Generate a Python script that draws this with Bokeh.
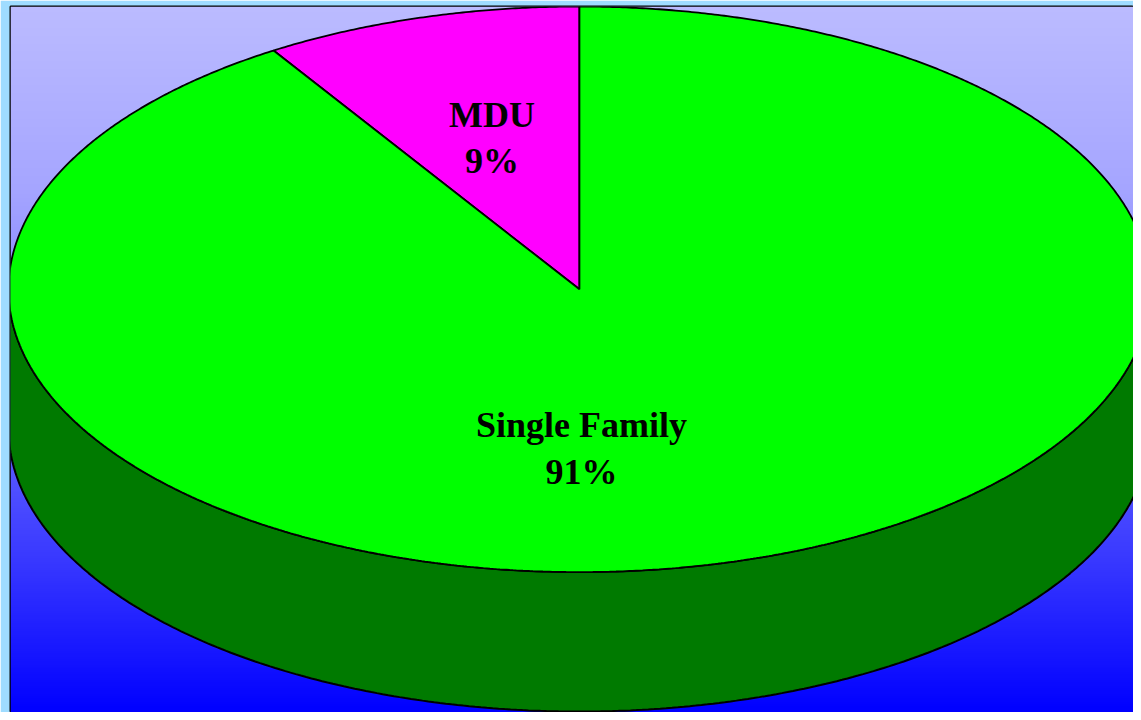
import numpy as np
from bokeh.plotting import figure
from bokeh.models import Range1d
from bokeh.core.properties import value
from bokeh.embed import file_html
from bokeh.resources import INLINE

# ---- data ----
categories = ["MDU", "Single Family"]
shares = [9, 91]
labels_pct = ["9%", "91%"]
slice_colors = ["#FF00FF", "#00FF00"]
side_color = "#007A00"

# ---- geometry (reference-pixel-like data units, y up) ----
X0, X1 = 10, 1141
Y0, Y1 = 0, 714
cx, cy = 583.0, 428.0
rx, ry = 575.0, 286.0
depth = 141.0

p = figure(width=1133, height=712, output_backend="svg", toolbar_location=None,
           x_range=Range1d(X0, X1), y_range=Range1d(Y0, Y1),
           min_border_left=10, min_border_right=0, min_border_top=6, min_border_bottom=0)
p.axis.visible = False
p.xgrid.visible = False
p.ygrid.visible = False
p.border_fill_color = "#9FDCFF"
p.background_fill_color = "#0000FF"
p.outline_line_color = "black"
p.outline_line_width = 2

# ---- background gradient (style) ----
stops_y = np.array([0, 150, 340, 530, 714], dtype=float)   # data y (bottom->top)
stops_v = np.array([0, 55, 115, 165, 187], dtype=float)
n = 357
ys_g = np.linspace(Y0, Y1, n)
vals = np.interp(ys_g, stops_y, stops_v).round().astype(np.uint8)
img = np.zeros((n, 2), dtype=np.uint32)
view = img.view(dtype=np.uint8).reshape((n, 2, 4))
view[:, :, 0] = vals[:, None]
view[:, :, 1] = vals[:, None]
view[:, :, 2] = 255
view[:, :, 3] = 255
p.image_rgba(image=[img], x=X0, y=Y0, dw=X1 - X0, dh=Y1 - Y0)

# ---- pie ----
total = float(sum(shares))
start = 90.0
angles = []
for s in shares:
    sweep = 360.0 * s / total
    angles.append((start, start + sweep))
    start += sweep

# side (front visible half)
t = np.radians(np.linspace(180, 360, 300))
top_x = cx + rx * np.cos(t)
top_y = cy + ry * np.sin(t)
side_x = np.concatenate([top_x, top_x[::-1]])
side_y = np.concatenate([top_y, top_y[::-1] - depth])
p.patch(side_x, side_y, fill_color=side_color, line_color="black", line_width=2)

# top faces
for (a0, a1), col in zip(angles, slice_colors):
    tt = np.radians(np.linspace(a0, a1, max(4, int((a1 - a0) * 3))))
    xs = np.concatenate([[cx], cx + rx * np.cos(tt), [cx]])
    ys = np.concatenate([[cy], cy + ry * np.sin(tt), [cy]])
    p.patch(xs, ys, fill_color=col, line_color="black", line_width=1.8)

# ---- labels ----
lab_x = [495, 585]
lab_y1 = [604, 291]
lab_y2 = [558, 243]
font = dict(text_font=value("Liberation Serif"), text_font_style="bold",
            text_font_size="36px", text_align="center", text_baseline="alphabetic",
            text_color="black")
p.text(x=lab_x, y=lab_y1, text=categories, **font)
p.text(x=lab_x, y=lab_y2, text=labels_pct, **font)

open("out.html", "w").write(file_html(p, INLINE))
